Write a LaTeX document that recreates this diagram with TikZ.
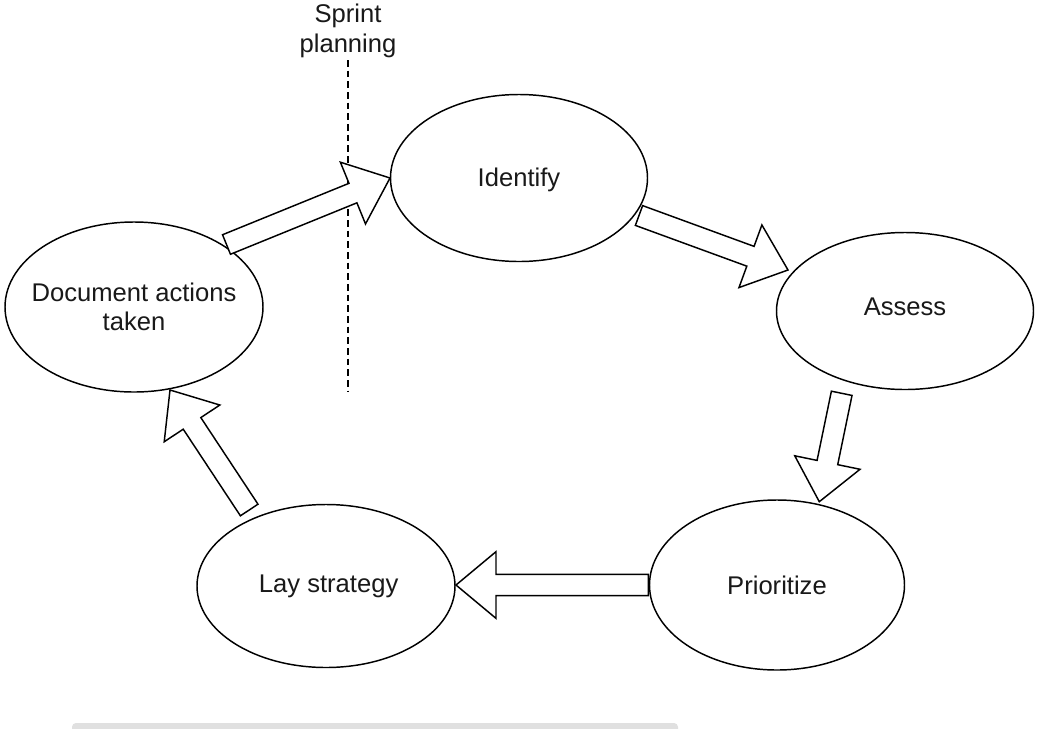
\documentclass[tikz,border=0pt]{standalone}
\usepackage{fontspec}
\setmainfont{Liberation Sans}
\usetikzlibrary{shapes.geometric,calc}

% Block arrow from tail #1 to tip #2: shaft half width, head half width, head length
\newcommand\blockarrow[2]{%
  \draw[flow] ($(#1)!7.9pt!90:(#2)$)
    -- ($(#2)!30pt!(#1)!7.9pt!-90:(#1)$)
    -- ($(#2)!30pt!(#1)!25pt!-90:(#1)$)
    -- (#2)
    -- ($(#2)!30pt!(#1)!25pt!90:(#1)$)
    -- ($(#2)!30pt!(#1)!7.9pt!90:(#1)$)
    -- ($(#1)!7.9pt!-90:(#2)$) -- cycle;}

\tikzset{
  stage/.style 2 args={ellipse, draw=black, line width=1.1pt, fill=white,
    inner sep=0pt, minimum width=#1*0.75pt, minimum height=#2*0.75pt},
  caption/.style={font=\fontsize{19.2}{21.5}\selectfont, align=center, text=black!90},
  flow/.style={draw=black, line width=1.1pt, fill=white, line join=miter},
  divider/.style={line width=1.1pt, dash pattern=on 5pt off 3pt},
}

\begin{document}
\begin{tikzpicture}[x=0.75pt, y=-0.75pt]
  \useasboundingbox (0,0) rectangle (1040,729);
  \clip (0,0) rectangle (1040,729);
  \fill[white] (0,0) rectangle (1040,729);

  % scrollbar-like strip along the bottom edge
  \fill[black!12, rounded corners=3pt] (72,723) rectangle (678,740);

  % sprint planning marker
  \node[caption, font=\fontsize{19.2}{23}\selectfont] (sprint) at (348,31) {Sprint\\planning};
  \coordinate (divtop) at (348,60);
  \coordinate (divbot) at (348,392);
  \draw[divider] (divtop) -- (divbot);

  % cycle stages
  \node[stage={257}{167}] (identify) at (519,178) {};
  \node[stage={257}{157}] (assess)   at (905,311) {};
  \node[stage={255}{170}] (prior)    at (777,585) {};
  \node[stage={258}{163}] (lay)      at (326,586) {};
  \node[stage={258}{170}] (doc)      at (134,307) {};

  \node[caption] (identifyT) at ([yshift=-1.5pt]identify) {Identify};
  \node[caption] (assessT)   at ([yshift=3pt]assess)      {Assess};
  \node[caption] (priorT)    at (prior)                   {Prioritize};
  \node[caption] (layT)      at ([xshift=2pt]lay)         {Lay strategy};
  \node[caption] (docT)      at (doc)                     {Document actions\\taken};

  % arrow ends
  \coordinate (a1s) at (226.5,244.5);
  \coordinate (a1e) at (390,178);
  \coordinate (a2s) at (639,215.5);
  \coordinate (a2e) at (788,270);
  \coordinate (a3s) at (841.7,393.3);
  \coordinate (a3e) at (819.3,501.7);
  \coordinate (a4s) at (648.3,585);
  \coordinate (a4e) at (456,585);
  \coordinate (a5s) at (249.2,510);
  \coordinate (a5e) at (170,390);

  \blockarrow{a1s}{a1e}
  \blockarrow{a2s}{a2e}
  \blockarrow{a3s}{a3e}
  \blockarrow{a4s}{a4e}
  \blockarrow{a5s}{a5e}
\end{tikzpicture}
\end{document}
